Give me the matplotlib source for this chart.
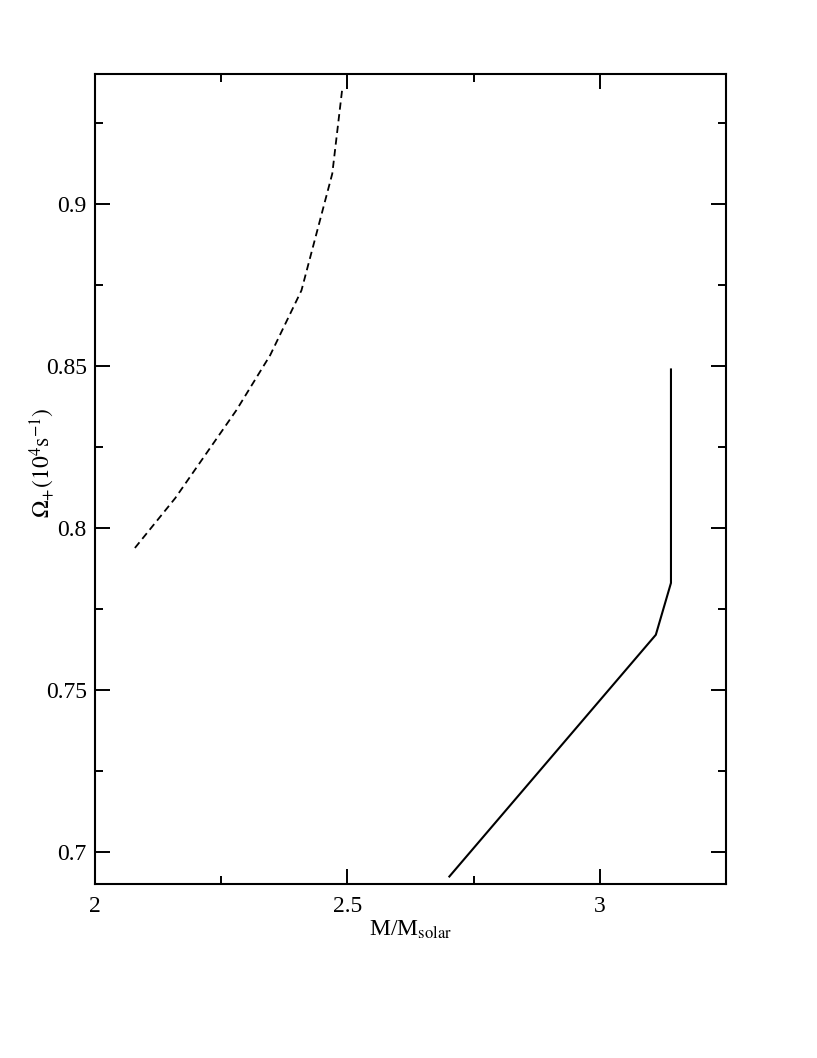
import matplotlib
matplotlib.use("Agg")
import matplotlib.pyplot as plt
from matplotlib.ticker import MultipleLocator

plt.rcParams['font.family'] = ['Liberation Serif', 'DejaVu Serif']
plt.rcParams['mathtext.fontset'] = 'stix'

# dashed curve
mass_dash = [2.079, 2.159, 2.280, 2.347, 2.409, 2.470, 2.490]
omega_dash = [0.7937, 0.8091, 0.8362, 0.8532, 0.8732, 0.9092, 0.9357]

# solid curve
mass_solid = [2.702, 3.111, 3.141, 3.141]
omega_solid = [0.6923, 0.7669, 0.7829, 0.8488]

fig = plt.figure(figsize=(8.17, 10.58), dpi=100)
ax = fig.add_axes([0.1163, 0.1645, 0.7723, 0.7656])

ax.plot(mass_dash, omega_dash, color='black', lw=1.3, ls=(0, (4, 2.5)))
ax.plot(mass_solid, omega_solid, color='black', lw=1.5)

ax.set_xlim(2, 3.25)
ax.set_ylim(0.69, 0.94)
ax.xaxis.set_major_locator(MultipleLocator(0.5))
ax.xaxis.set_minor_locator(MultipleLocator(0.25))
ax.yaxis.set_major_locator(MultipleLocator(0.05))
ax.yaxis.set_minor_locator(MultipleLocator(0.025))
ax.xaxis.set_major_formatter(plt.FuncFormatter(lambda v, p: f"{v:g}"))
ax.yaxis.set_major_formatter(plt.FuncFormatter(lambda v, p: f"{v:g}"))

ax.tick_params(which='both', direction='in', top=True, right=True, labelsize=17, width=1.4)
ax.tick_params(which='major', length=11)
ax.tick_params(which='minor', length=5.5)
ax.tick_params(axis='x', pad=9)
ax.tick_params(axis='y', pad=6)
for s in ax.spines.values():
    s.set_linewidth(1.5)

ax.set_xlabel(r'M/M$_{\rm solar}$', fontsize=17, labelpad=1)
ax.set_ylabel(r'$\Omega_{+}(10^{4}\mathrm{s}^{-1})$', fontsize=17)
ax.yaxis.set_label_coords(-0.06, 0.52)

fig.savefig('out.png', dpi=100)
